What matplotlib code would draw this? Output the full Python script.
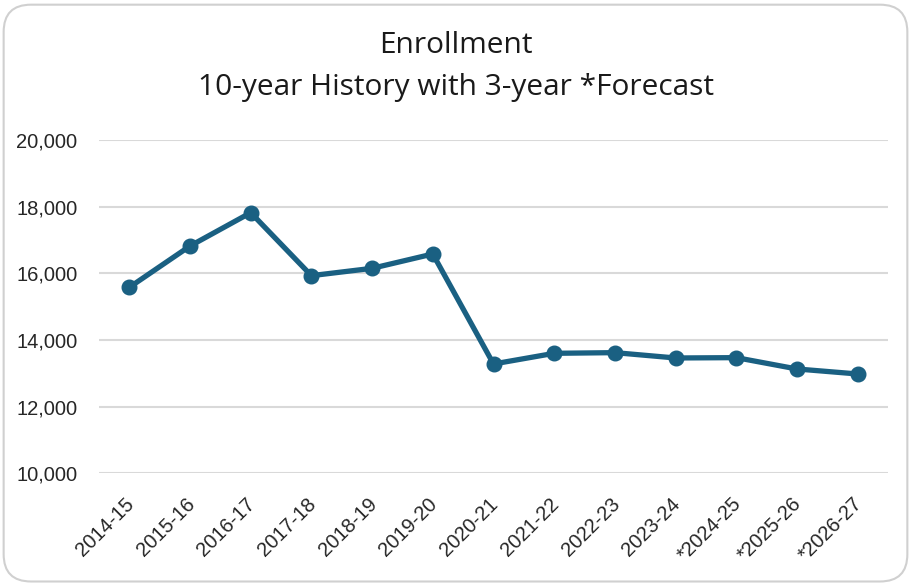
import numpy as np
import matplotlib.pyplot as plt
import matplotlib.transforms as mtransforms
from matplotlib.patches import FancyBboxPatch
from matplotlib.ticker import FuncFormatter

# School years (the starred ones are forecast values)
years = ["2014-15", "2015-16", "2016-17", "2017-18", "2018-19", "2019-20",
         "2020-21", "2021-22", "2022-23", "2023-24", "*2024-25", "*2025-26", "*2026-27"]
enrollment = [15580, 16820, 17820, 15930, 16150, 16580,
              13280, 13600, 13620, 13460, 13470, 13130, 12980]
yticks = [10000, 12000, 14000, 16000, 18000, 20000]

line_color = "#1a6082"
grid_color = "#d9d9d9"

plt.rcParams["font.family"] = ["Liberation Sans", "DejaVu Sans"]

fig = plt.figure(figsize=(9.11, 5.85), dpi=100)

# rounded chart frame, kept behind the axes
frame = FancyBboxPatch((0.004, 0.006), 0.992, 0.986,
                       boxstyle="round,pad=0,rounding_size=0.03",
                       transform=fig.transFigure, facecolor="white",
                       edgecolor="#d0d0d0", linewidth=1.5,
                       mutation_aspect=911 / 585, zorder=-10)
fig.patches.append(frame)

ax = fig.add_axes([99 / 911, 1 - 473.3 / 585, 789 / 911, 333.3 / 585])
ax.set_facecolor("none")
ax.set_zorder(5)

x = np.arange(len(years))
ax.plot(x, enrollment, color=line_color, linewidth=3.8, marker="o",
        markersize=10.5, solid_joinstyle="round", zorder=3)

ax.set_xlim(-0.5, len(years) - 0.5)
ax.set_ylim(10000, 20000)
ax.set_yticks(yticks)
ax.yaxis.set_major_formatter(FuncFormatter(lambda v, p: f"{v:,.0f}"))
ax.set_xticks(x)
ax.set_xticklabels(years, rotation=45, ha="right", rotation_mode="anchor")

ax.grid(axis="y", color=grid_color, linewidth=1.5)
ax.set_axisbelow(True)
for s in ax.spines.values():
    s.set_visible(False)
ax.tick_params(axis="both", length=0, labelsize=14.5, colors="#262626")
ax.tick_params(axis="y", pad=15.5)
ax.tick_params(axis="x", pad=15)

# nudge the slanted year labels a little to the left
shift = mtransforms.ScaledTranslation(-5 / 100, 0, fig.dpi_scale_trans)
for lbl in ax.get_xticklabels():
    lbl.set_transform(lbl.get_transform() + shift)

title_font = ["Open Sans", "DejaVu Sans"]
fig.text(0.5, 1 - 53.3 / 585, "Enrollment", ha="center", va="baseline",
         fontsize=21.5, color="#1a1a1a", family=title_font)
fig.text(0.5, 1 - 94.5 / 585, "10-year History with 3-year *Forecast", ha="center",
         va="baseline", fontsize=21.5, color="#1a1a1a", family=title_font)

fig.savefig("out.png", dpi=100)
